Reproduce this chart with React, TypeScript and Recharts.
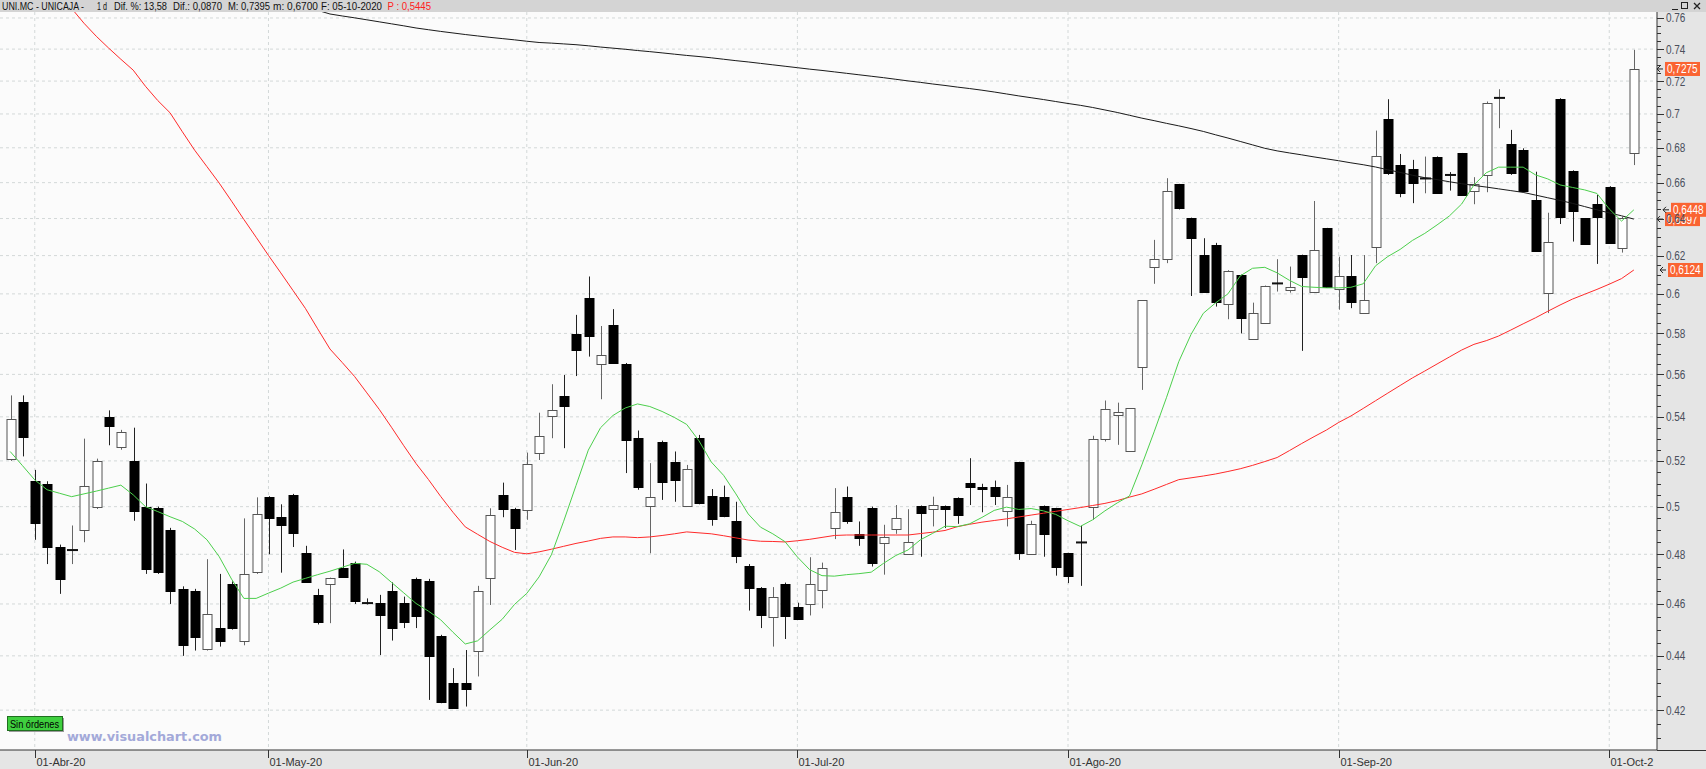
import React from 'react';
import {
  ComposedChart,
  Bar,
  Line,
  XAxis,
  YAxis,
  ReferenceLine,
  CartesianGrid,
} from 'recharts';

// daily candles, 30-Mar-20 .. 05-Oct-20
const opens = [
  0.521, 0.547, 0.511, 0.510, 0.483, 0.4815, 0.490, 0.500, 0.540, 0.526,
  0.520, 0.500, 0.4995, 0.490, 0.466, 0.465, 0.4425, 0.4505, 0.468, 0.4455,
  0.473, 0.504, 0.4955, 0.505, 0.4804, 0.4636, 0.468, 0.4744, 0.4764, 0.4605,
  0.4602, 0.4652, 0.4602, 0.470, 0.4692, 0.4474, 0.4299, 0.4299, 0.442, 0.4703,
  0.5049, 0.4989, 0.4986, 0.5235, 0.5404, 0.5499, 0.5797, 0.5981, 0.5649, 0.5843,
  0.5649, 0.5302, 0.5003, 0.5283, 0.5194, 0.5003, 0.5302, 0.5046, 0.5041, 0.4941,
  0.4754, 0.4663, 0.4551, 0.468, 0.4589, 0.4602, 0.4652, 0.4913, 0.5042, 0.4885,
  0.4995, 0.4846, 0.4905, 0.480, 0.5003, 0.4991, 0.5003, 0.5039, 0.5102, 0.5084,
  0.5084, 0.4983, 0.5194, 0.4801, 0.5003, 0.4993, 0.4804, 0.485, 0.500, 0.5298,
  0.5408, 0.5242, 0.5635, 0.6139, 0.6181, 0.6591, 0.6401, 0.6203, 0.6257, 0.5952,
  0.6099, 0.5771, 0.5851, 0.6053, 0.6017, 0.6203, 0.6008, 0.6347, 0.6021, 0.6094,
  0.5902, 0.6245, 0.6969, 0.6701, 0.6676, 0.6622, 0.6749, 0.6645, 0.6768, 0.6553,
  0.6644, 0.7095, 0.6822, 0.6787, 0.6503, 0.6003, 0.7091, 0.6668, 0.6401, 0.6481,
  0.6577, 0.624, 0.677,
];
const highs = [
  0.550, 0.550, 0.516, 0.511, 0.484, 0.492, 0.530, 0.521, 0.543, 0.534,
  0.535, 0.510, 0.500, 0.491, 0.467, 0.466, 0.478, 0.472, 0.469, 0.495,
  0.504, 0.5045, 0.501, 0.5055, 0.4835, 0.466, 0.4705, 0.482, 0.477, 0.4622,
  0.4636, 0.4686, 0.4629, 0.4705, 0.470, 0.448, 0.4354, 0.4422, 0.4672, 0.4993,
  0.5104, 0.4995, 0.5237, 0.5419, 0.5553, 0.5597, 0.5893, 0.609, 0.5837, 0.5922,
  0.5655, 0.5337, 0.519, 0.5291, 0.5242, 0.5182, 0.5317, 0.5076, 0.5091, 0.5021,
  0.476, 0.4667, 0.4667, 0.4685, 0.4605, 0.4788, 0.4766, 0.508, 0.5087, 0.4937,
  0.500, 0.4923, 0.5007, 0.4989, 0.5005, 0.5043, 0.5005, 0.504, 0.5212, 0.5099,
  0.5113, 0.5094, 0.5196, 0.494, 0.5005, 0.4995, 0.4806, 0.4919, 0.5313, 0.5476,
  0.5466, 0.5441, 0.5968, 0.6284, 0.6625, 0.6593, 0.6405, 0.6293, 0.6268, 0.6123,
  0.610, 0.5955, 0.6043, 0.6181, 0.6142, 0.6205, 0.6497, 0.6349, 0.6194, 0.6203,
  0.6203, 0.6901, 0.7089, 0.6764, 0.673, 0.6749, 0.675, 0.666, 0.677, 0.6631,
  0.7075, 0.715, 0.6905, 0.6797, 0.6662, 0.6432, 0.7095, 0.667, 0.6403, 0.6531,
  0.658, 0.641, 0.7395,
];
const lows = [
  0.520, 0.522, 0.486, 0.476, 0.464, 0.476, 0.485, 0.499, 0.527, 0.525,
  0.494, 0.472, 0.472, 0.460, 0.440, 0.442, 0.442, 0.4435, 0.450, 0.444,
  0.472, 0.480, 0.4725, 0.483, 0.4685, 0.452, 0.4525, 0.4705, 0.460, 0.4598,
  0.4403, 0.4458, 0.4506, 0.4506, 0.4237, 0.4225, 0.4205, 0.4213, 0.4323, 0.4596,
  0.4955, 0.4818, 0.4944, 0.5204, 0.5302, 0.5257, 0.5592, 0.5686, 0.5482, 0.565,
  0.5146, 0.5073, 0.4804, 0.5029, 0.5021, 0.500, 0.501, 0.4919, 0.4955, 0.4764,
  0.4574, 0.4506, 0.4435, 0.4464, 0.454, 0.4555, 0.4583, 0.4863, 0.4927, 0.4835,
  0.475, 0.4717, 0.4885, 0.4798, 0.479, 0.4916, 0.4909, 0.4927, 0.5007, 0.4976,
  0.5007, 0.4916, 0.4777, 0.480, 0.479, 0.4713, 0.4683, 0.4672, 0.4944, 0.5287,
  0.5272, 0.524, 0.5526, 0.6052, 0.616, 0.645, 0.5989, 0.601, 0.5935, 0.5871,
  0.580, 0.577, 0.585, 0.6012, 0.6006, 0.5714, 0.6005, 0.603, 0.5919, 0.5927,
  0.590, 0.616, 0.6644, 0.6518, 0.6485, 0.654, 0.6545, 0.6555, 0.6525, 0.6479,
  0.6546, 0.6915, 0.6644, 0.655, 0.6223, 0.5902, 0.637, 0.6275, 0.626, 0.6156,
  0.6268, 0.6216, 0.670,
];
const closes = [
  0.539, 0.531, 0.493, 0.483, 0.470, 0.482, 0.509, 0.520, 0.536, 0.533,
  0.498, 0.474, 0.473, 0.465, 0.444, 0.447, 0.456, 0.4457, 0.4506, 0.472,
  0.497, 0.495, 0.492, 0.489, 0.4687, 0.453, 0.4703, 0.4707, 0.4613, 0.4602,
  0.4555, 0.4506, 0.4529, 0.4555, 0.440, 0.4229, 0.4207, 0.4277, 0.4652, 0.4965,
  0.4989, 0.4909, 0.5185, 0.5313, 0.5432, 0.5452, 0.5716, 0.5789, 0.5695, 0.5654,
  0.5291, 0.5084, 0.5043, 0.5105, 0.5116, 0.5163, 0.5014, 0.4947, 0.4961, 0.4797,
  0.4667, 0.4557, 0.4629, 0.4555, 0.4544, 0.468, 0.4742, 0.4979, 0.4941, 0.4867,
  0.4764, 0.4871, 0.4952, 0.4849, 0.4972, 0.5006, 0.499, 0.4968, 0.5083, 0.5076,
  0.5046, 0.5041, 0.4804, 0.4926, 0.4884, 0.4748, 0.471, 0.4848, 0.5299, 0.5435,
  0.5424, 0.544, 0.5966, 0.6181, 0.6553, 0.6457, 0.6293, 0.6012, 0.5961, 0.6121,
  0.5879, 0.5902, 0.6041, 0.6055, 0.6034, 0.6087, 0.6229, 0.6032, 0.609, 0.5961,
  0.5969, 0.6753, 0.6653, 0.654, 0.6596, 0.6625, 0.6546, 0.6642, 0.6527, 0.6592,
  0.7065, 0.7099, 0.6653, 0.6553, 0.6225, 0.627, 0.641, 0.6442, 0.6261, 0.641,
  0.627, 0.6405, 0.7275,
];

// moving averages (green = fast, red = mid, black = slow)
const maFast = [
  0.5242, 0.5179, 0.5116, 0.5073, 0.5058, 0.5043, 0.5055, 0.5067, 0.508, 0.5093,
  0.5051, 0.500, 0.4979, 0.4957, 0.4937, 0.4905, 0.486, 0.479, 0.4699, 0.4622,
  0.4622, 0.4643, 0.4663, 0.4687, 0.4702, 0.4717, 0.4731, 0.4747, 0.4763, 0.4759,
  0.4729, 0.4686, 0.4644, 0.4602, 0.4572, 0.4538, 0.449, 0.4445, 0.4457, 0.4499,
  0.454, 0.4598, 0.4642, 0.4708, 0.4798, 0.4938, 0.5091, 0.5248, 0.535, 0.5406,
  0.5441, 0.546, 0.5448, 0.5425, 0.5397, 0.5365, 0.529, 0.5195, 0.5136, 0.5055,
  0.4969, 0.4913, 0.4885, 0.4852, 0.4789, 0.4737, 0.4713, 0.4711, 0.4717, 0.4721,
  0.4727, 0.4763, 0.4795, 0.4818, 0.486, 0.4887, 0.4917, 0.4915, 0.4927, 0.4954,
  0.4984, 0.4998, 0.4988, 0.4992, 0.4982, 0.4967, 0.494, 0.4916, 0.4944, 0.4982,
  0.5016, 0.5046, 0.5182, 0.5331, 0.5489, 0.5661, 0.5795, 0.5901, 0.5954, 0.600,
  0.6093, 0.6133, 0.6138, 0.6109, 0.607, 0.6038, 0.6034, 0.6031, 0.6031, 0.6034,
  0.6052, 0.6146, 0.6195, 0.6233, 0.6281, 0.6319, 0.6365, 0.6414, 0.648, 0.6587,
  0.6656, 0.6688, 0.6688, 0.6688, 0.6644, 0.6621, 0.6587, 0.6573, 0.6559, 0.6539,
  0.6453, 0.6386, 0.6448,
];
const maMid = [
  null, null, null, null, 0.776, 0.7662, 0.7566, 0.7482, 0.7407, 0.7336,
  0.7268, 0.7168, 0.7081, 0.7007, 0.6894, 0.6786, 0.6691, 0.6597, 0.6496, 0.6395,
  0.6298, 0.6201, 0.6109, 0.6017, 0.5926, 0.5823, 0.5723, 0.5657, 0.559, 0.5512,
  0.5435, 0.5352, 0.5268, 0.5188, 0.5118, 0.5044, 0.4976, 0.4914, 0.4883, 0.4853,
  0.4829, 0.4808, 0.4802, 0.481, 0.4821, 0.4833, 0.4845, 0.4855, 0.4866, 0.4872,
  0.4872, 0.4869, 0.4872, 0.4878, 0.4885, 0.4893, 0.4889, 0.4885, 0.4877, 0.4868,
  0.4859, 0.4854, 0.4853, 0.4851, 0.4856, 0.4862, 0.487, 0.4878, 0.488, 0.488,
  0.488, 0.488, 0.488, 0.488, 0.4886, 0.4892, 0.4899, 0.4915, 0.4925, 0.4934,
  0.4941, 0.4948, 0.4956, 0.4964, 0.4972, 0.498, 0.4988, 0.4996, 0.5005, 0.5014,
  0.5026, 0.5041, 0.5055, 0.5075, 0.5096, 0.5117, 0.5125, 0.5133, 0.5142, 0.5153,
  0.5165, 0.518, 0.5197, 0.5215, 0.5246, 0.5278, 0.5309, 0.5339, 0.5374, 0.5404,
  0.5439, 0.5475, 0.5511, 0.5547, 0.5583, 0.5616, 0.565, 0.5684, 0.5718, 0.5746,
  0.5764, 0.5787, 0.5817, 0.5848, 0.5878, 0.5911, 0.5943, 0.5973, 0.5998, 0.6023,
  0.605, 0.6079, 0.6124,
];
const maSlow = [
  null, null, null, null, null, null, null, null, null, null,
  null, null, null, null, null, null, null, null, null, null,
  null, null, null, null, null, 0.765, 0.7626, 0.7613, 0.7601, 0.7588,
  0.7575, 0.7562, 0.7549, 0.7535, 0.7524, 0.7513, 0.7503, 0.7493, 0.7484, 0.7475,
  0.7467, 0.7459, 0.745, 0.7442, 0.7438, 0.7433, 0.7428, 0.7421, 0.7413, 0.7406,
  0.7399, 0.7391, 0.7384, 0.7376, 0.7368, 0.736, 0.7353, 0.7345, 0.7336, 0.7327,
  0.7319, 0.731, 0.7301, 0.7292, 0.7283, 0.7274, 0.7266, 0.7257, 0.7248, 0.7239,
  0.723, 0.7221, 0.7211, 0.7201, 0.7192, 0.7182, 0.7173, 0.7163, 0.7154, 0.7144,
  0.7133, 0.7121, 0.7109, 0.7098, 0.7087, 0.7075, 0.7063, 0.7052, 0.7039, 0.7024,
  0.7009, 0.6992, 0.6975, 0.696, 0.6944, 0.6929, 0.6913, 0.6896, 0.6876, 0.6857,
  0.6837, 0.6817, 0.6797, 0.6782, 0.677, 0.6759, 0.6747, 0.6736, 0.6725, 0.6713,
  0.6702, 0.6689, 0.6673, 0.6658, 0.6642, 0.6628, 0.6617, 0.6605, 0.6594, 0.6584,
  0.6575, 0.6565, 0.6555, 0.6545, 0.653, 0.6515, 0.65, 0.6484, 0.6466, 0.6448,
  0.6431, 0.6415, 0.6397,
];

const monthTicks = [2, 21, 42, 64, 86, 108, 130];
const monthLabels = ['01-Abr-20', '01-May-20', '01-Jun-20', '01-Jul-20', '01-Ago-20', '01-Sep-20', '01-Oct-2'];

const majorTicks = [0.42, 0.44, 0.46, 0.48, 0.5, 0.52, 0.54, 0.56, 0.58, 0.6, 0.62, 0.64, 0.66, 0.68, 0.7, 0.72, 0.74, 0.76];
// minor ticks every 0.005 between the labelled ones
const allTicks = [0.41, 0.415, ...majorTicks.flatMap((v) => [v, v + 0.005, v + 0.01, v + 0.015])].filter((v) => v < 0.764);

const priceTags = [
  { value: 0.6397, label: '0,6397', dx: 8 },
  { value: 0.6448, label: '0,6448', dx: 14 },
  { value: 0.7275, label: '0,7275', dx: 8 },
  { value: 0.6124, label: '0,6124', dx: 11 },
];

const headerItems = [
  { text: 'UNI.MC - UNICAJA -', x: 2, w: 82, color: '#111' },
  { text: '1 d', x: 97, w: 10, color: '#111' },
  { text: 'Dif. %: 13,58', x: 114, w: 53, color: '#111' },
  { text: 'Dif.: 0,0870', x: 173, w: 49, color: '#111' },
  { text: 'M: 0,7395', x: 228, w: 42, color: '#111' },
  { text: 'm: 0,6700', x: 273, w: 45, color: '#111' },
  { text: 'F: 05-10-2020', x: 321, w: 61, color: '#111' },
  { text: 'P : 0,5445', x: 387.5, w: 43.5, color: '#ff2020' },
];

const data = opens.map((o, i) => ({
  i,
  range: [lows[i], highs[i]],
  open: o,
  high: highs[i],
  low: lows[i],
  close: closes[i],
  fast: maFast[i],
  mid: maMid[i],
  slow: maSlow[i],
}));

const FONT = "'Liberation Sans', Arial, sans-serif";
// narrow-font look: squeeze digits to ~5.6px, separators to ~2.6px
const narrowWidth = (s: string) => s.split('').reduce((a, ch) => a + (ch === '.' || ch === ',' ? 2.6 : 5.6), 0);

const Candle = (props: any) => {
  const { x, y, width, height, payload } = props;
  const { open, close, high, low } = payload;
  const top = Math.min(y, y + height);
  const bot = Math.max(y, y + height);
  const span = Math.log(high) - Math.log(low);
  const py = (v: number) => (span > 0 ? top + ((Math.log(high) - Math.log(v)) / span) * (bot - top) : top);
  const cx = Math.round(x + width / 2) + 0.5;
  const up = close >= open;
  const bTop = py(Math.max(open, close));
  const bBot = py(Math.min(open, close));
  const wick = up ? '#666' : '#222';
  if (bBot - bTop < 1.6) {
    return (
      <g>
        <line x1={cx} x2={cx} y1={top} y2={bot} stroke={wick} strokeWidth={1} />
        <rect x={cx - 5.5} y={(bTop + bBot) / 2 - 1} width={11} height={2} fill="#111" />
      </g>
    );
  }
  return (
    <g>
      <line x1={cx} x2={cx} y1={top} y2={bot} stroke={wick} strokeWidth={1} />
      <rect
        x={cx - 4.5}
        y={Math.round(bTop) + 0.5}
        width={9}
        height={Math.max(1, Math.round(bBot - bTop))}
        fill={up ? '#ffffff' : '#000000'}
        stroke={up ? '#555' : '#000'}
        strokeWidth={1}
      />
    </g>
  );
};

const PriceTick = (props: any) => {
  const { x, y, payload } = props;
  const v = payload.value;
  const major = majorTicks.some((m) => Math.abs(m - v) < 1e-6);
  const label = String(parseFloat(v.toFixed(2)));
  return (
    <g>
      <line x1={x} x2={x + (major ? 7 : 4)} y1={Math.round(y) + 0.5} y2={Math.round(y) + 0.5} stroke="#333" />
      {major && (
        <text
          x={x + 9}
          y={y + 4.5}
          fontSize={12.5}
          fontFamily={FONT}
          fill="#4a4f5c"
          textLength={narrowWidth(label)}
          lengthAdjust="spacingAndGlyphs"
        >
          {label}
        </text>
      )}
    </g>
  );
};

const MonthTick = (props: any) => {
  const { x, y, payload } = props;
  const label = monthLabels[monthTicks.indexOf(payload.value)];
  const tx = Math.round(x) + 0.5;
  return (
    <g>
      <line x1={tx} x2={tx} y1={y} y2={y + 8} stroke="#333" />
      <text x={tx + 1} y={y + 16} fontSize={11} fontFamily={FONT} fill="#333">
        {label}
      </text>
    </g>
  );
};

const tagRenderer = (tag: { value: number; label: string; dx: number }) => (props: any) => {
  const vb = props.viewBox || {};
  const right = vb.x + vb.width;
  const yy = vb.y;
  const bx = right + tag.dx;
  const ax = bx - 2;
  return (
    <g>
      <path
        d={`M${ax - 6} ${yy} L${ax} ${yy} M${ax - 6} ${yy} L${ax - 3} ${yy - 3} M${ax - 6} ${yy} L${ax - 3} ${yy + 3}`}
        stroke="#222"
        strokeWidth={1}
        fill="none"
      />
      <rect x={bx} y={yy - 7} width={35} height={14} fill="#fa6432" />
      <text
        x={bx + 2}
        y={yy + 4.5}
        fontSize={12.5}
        fontFamily={FONT}
        fill="#ffffff"
        textLength={narrowWidth(tag.label)}
        lengthAdjust="spacingAndGlyphs"
      >
        {tag.label}
      </text>
    </g>
  );
};

// the axis scale may be a plain d3 function or a wrapper with .map()
const applyScale = (s: any, v: any): number => {
  if (typeof s === 'function') return s(v);
  if (s && typeof s.map === 'function') return s.map(v);
  if (s && typeof s.scale === 'function') return s.scale(v);
  return NaN;
};

const hGrid = (props: any) => {
  try {
    const s = props?.yAxis?.scale;
    return majorTicks.map((v) => applyScale(s, v)).filter((n) => Number.isFinite(n));
  } catch (e) {
    return [];
  }
};
const vGrid = (props: any) => {
  try {
    const s = props?.xAxis?.scale;
    const p0 = applyScale(s, 0);
    const p1 = applyScale(s, 1);
    const bw = p1 - p0;
    // band scales return the band start; shift to the band centre
    const shift = Math.abs(p0 - (props?.offset?.left ?? 0) - 4) < 1 ? bw / 2 : 0;
    return monthTicks.map((m) => applyScale(s, m) + shift).filter((n) => Number.isFinite(n));
  } catch (e) {
    return [];
  }
};

export default function App() {
  return (
    <div style={{ position: 'relative', width: 1706, height: 769, background: '#e5e5e5', overflow: 'hidden' }}>
      <style>{'body{margin:0;}'}</style>
      <ComposedChart
        width={1706}
        height={769}
        data={data}
        margin={{ top: 12, right: 0, bottom: 0, left: 0 }}
        barCategoryGap={0}
      >
        <CartesianGrid
          fill="#fbfbfb"
          stroke="#d3d8d8"
          strokeDasharray="3 3"
          horizontalCoordinatesGenerator={hGrid}
          verticalCoordinatesGenerator={vGrid}
        />
        <XAxis
          dataKey="i"
          type="category"
          ticks={monthTicks}
          interval={0}
          tick={<MonthTick />}
          tickLine={false}
          tickSize={0}
          tickMargin={0}
          axisLine={{ stroke: '#333' }}
          height={19}
          padding={{ left: 4, right: 17 }}
        />
        <YAxis
          orientation="right"
          type="number"
          scale="log"
          domain={[0.4059, 0.7639]}
          allowDataOverflow
          ticks={allTicks}
          interval={0}
          tick={<PriceTick />}
          tickLine={false}
          tickSize={0}
          tickMargin={0}
          axisLine={{ stroke: '#333' }}
          width={49}
        />
        <Bar dataKey="range" shape={<Candle />} barSize={9} isAnimationActive={false} />
        <Line type="linear" dataKey="mid" stroke="#ff2a2a" strokeWidth={1} dot={false} isAnimationActive={false} />
        <Line type="linear" dataKey="slow" stroke="#1a1a1a" strokeWidth={1} dot={false} isAnimationActive={false} />
        <Line type="linear" dataKey="fast" stroke="#4ccf4c" strokeWidth={1} dot={false} isAnimationActive={false} />
        {priceTags.map((t) => (
          <ReferenceLine key={'t' + t.value} y={t.value} stroke="none" label={tagRenderer(t)} />
        ))}
      </ComposedChart>

      <svg
        width={1706}
        height={769}
        style={{ position: 'absolute', left: 0, top: 0, pointerEvents: 'none' }}
      >
        {/* title bar */}
        <rect x={0} y={0} width={1706} height={12} fill="#d4d4d4" />
        {headerItems.map((h) => (
          <text
            key={h.text}
            x={h.x}
            y={10}
            fontSize={11}
            fontFamily={FONT}
            fill={h.color}
            textLength={h.w}
            lengthAdjust="spacingAndGlyphs"
          >
            {h.text}
          </text>
        ))}
        <line x1={1672} x2={1678} y1={9.5} y2={9.5} stroke="#222" />
        <rect x={1681.5} y={2.5} width={6} height={6} fill="none" stroke="#222" />
        <path d="M1694 3 L1700 9 M1700 3 L1694 9" stroke="#222" strokeWidth={1.3} />
        <line x1={1657} x2={1706} y1={750.5} y2={750.5} stroke="#333" />

        {/* order status box */}
        <rect x={9} y={718} width={55} height={14} fill="#9a9a9a" />
        <rect x={7.5} y={716.5} width={55} height={14} fill="#3fcf3f" stroke="#1f6f1f" />
        <text
          x={10}
          y={727.5}
          fontSize={11}
          fontFamily={FONT}
          fill="#000"
          textLength={49}
          lengthAdjust="spacingAndGlyphs"
        >
          Sin órdenes
        </text>
        <text
          x={67}
          y={741}
          fontSize={12.5}
          fontWeight="bold"
          fontFamily="'DejaVu Sans', Verdana, sans-serif"
          fill="#a3a9d9"
          textLength={155}
          lengthAdjust="spacingAndGlyphs"
        >
          www.visualchart.com
        </text>
      </svg>
    </div>
  );
}
